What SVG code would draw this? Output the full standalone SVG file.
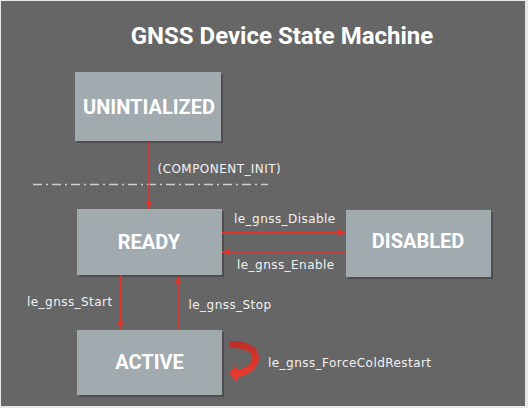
<svg xmlns="http://www.w3.org/2000/svg" width="528" height="408" viewBox="0 0 528 408">
  <style>
    .node { fill: #a0aaaf; }
    .shadow { fill: #4e4e4e; }
    .nlabel { font-family: Roboto, "Liberation Sans", sans-serif; font-weight: bold; font-size: 20px; fill: #ffffff; text-anchor: middle; }
    .elabel { font-family: "DejaVu Sans", "Liberation Sans", sans-serif; font-size: 12px; letter-spacing: 0.45px; fill: #f2f2f2; }
    .edge { stroke: #e0342c; stroke-width: 1.5; fill: none; marker-end: url(#arrow); }
  </style>
  <defs>
    <marker id="arrow" markerUnits="userSpaceOnUse" markerWidth="9" markerHeight="8" refX="8" refY="3.5" orient="auto">
      <path d="M0,0 L8,3.5 L0,7 Z" fill="#e0342c"/>
    </marker>
    <linearGradient id="curl" x1="0" y1="0" x2="0" y2="1">
      <stop offset="0" stop-color="#b82e28"/>
      <stop offset="0.4" stop-color="#d6352d"/>
      <stop offset="1" stop-color="#ee3b30"/>
    </linearGradient>
  </defs>

  <rect x="0" y="0" width="528" height="408" fill="#e8e8e8"/>
  <rect x="1" y="1" width="524" height="405" fill="#666666"/>

  <text x="282" y="44" font-family="Roboto, 'Liberation Sans', sans-serif" font-weight="bold" font-size="24" fill="#ffffff" text-anchor="middle">GNSS Device State Machine</text>

  <line x1="33" y1="184.5" x2="268" y2="184.5" stroke="#d0d0d0" stroke-width="1.5" stroke-dasharray="9 4 2 4"/>

  <g id="node-unintialized">
    <rect class="shadow" x="77" y="74" width="146" height="69"/>
    <rect class="node" x="75" y="72" width="146" height="69"/>
    <text class="nlabel" x="149" y="114">UNINTIALIZED</text>
  </g>
  <g id="node-ready">
    <rect class="shadow" x="79" y="211" width="145" height="66"/>
    <rect class="node" x="77" y="209" width="145" height="66"/>
    <text class="nlabel" x="149" y="249">READY</text>
  </g>
  <g id="node-disabled">
    <rect class="shadow" x="348" y="212" width="145" height="67"/>
    <rect class="node" x="346" y="210" width="145" height="67"/>
    <text class="nlabel" x="418" y="248">DISABLED</text>
  </g>
  <g id="node-active">
    <rect class="shadow" x="79" y="332" width="145" height="65"/>
    <rect class="node" x="77" y="330" width="145" height="65"/>
    <text class="nlabel" x="149.5" y="369">ACTIVE</text>
  </g>

  <g id="connectors">
    <path class="edge" d="M149,142 L149,209"/>
    <path class="edge" d="M222,232.5 L346,232.5"/>
    <path class="edge" d="M346,252 L222,252"/>
    <path class="edge" d="M120.5,275 L120.5,329"/>
    <path class="edge" d="M178,330 L178,276"/>
    <path d="M229,341 C247,340 259,347 259,358 C259,368 249,375 238,377 L237,382 L229,373 L236,365 L237,370 C246,368 252,364 252,358 C252,351 243,348 229,348 Z" fill="url(#curl)"/>
    <text class="elabel" x="157.5" y="173">(COMPONENT_INIT)</text>
    <text class="elabel" x="234" y="223">le_gnss_Disable</text>
    <text class="elabel" x="237" y="269">le_gnss_Enable</text>
    <text class="elabel" x="27" y="306">le_gnss_Start</text>
    <text class="elabel" x="188.5" y="309">le_gnss_Stop</text>
    <text class="elabel" x="268" y="367">le_gnss_ForceColdRestart</text>
  </g>
</svg>
